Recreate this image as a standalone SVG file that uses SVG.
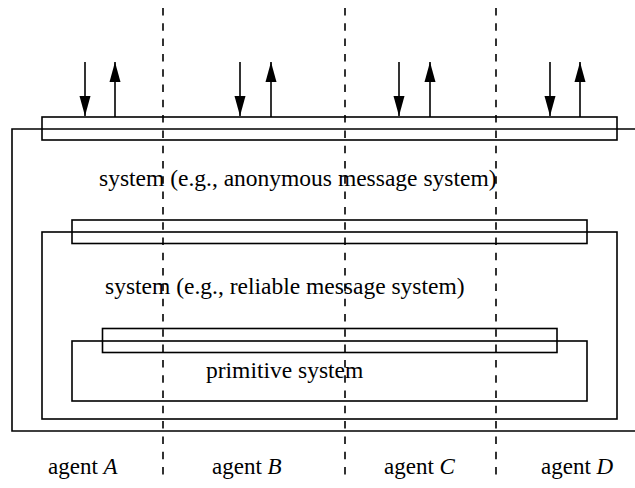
<svg xmlns="http://www.w3.org/2000/svg" width="635" height="488" viewBox="0 0 635 488">
<style>
.box{fill:none;stroke:#000;stroke-width:1.6}
.sep{stroke:#000;stroke-width:1.6;stroke-dasharray:7.5 7.8}
.arr{stroke:#000;stroke-width:1.6;fill:none}
.lbl{font-family:"Liberation Serif","Times New Roman",serif;font-size:23.5px;fill:#000}
.ag{font-family:"Liberation Serif","Times New Roman",serif;font-size:23px;fill:#000}
</style>
<defs>
<marker id="ah" markerUnits="userSpaceOnUse" markerWidth="22" markerHeight="12" refX="20" refY="6" orient="auto">
<path d="M0,0.5 L20,6 L0,11.5 Z" fill="#000"/>
</marker>
</defs>
<rect width="635" height="488" fill="#fff"/>
<g id="separators">
<line class="sep" x1="163" y1="8" x2="163" y2="482"/>
<line class="sep" x1="345" y1="8" x2="345" y2="482"/>
<line class="sep" x1="496" y1="8" x2="496" y2="482"/>
</g>
<g id="outer-system">
<path class="box" d="M635,129 H12 V431 H635"/>
<rect class="box" x="42" y="117" width="575" height="23"/>
<text class="lbl" x="99" y="186">system (e.g., anonymous message system)</text>
</g>
<g id="reliable-system">
<rect class="box" x="42" y="232" width="575" height="187"/>
<rect class="box" x="72" y="220" width="515" height="23.5"/>
<text class="lbl" x="105" y="294">system (e.g., reliable message system)</text>
</g>
<g id="primitive-system">
<rect class="box" x="72" y="341" width="515" height="60"/>
<rect class="box" x="102.5" y="328.5" width="454.5" height="24"/>
<text class="lbl" x="206" y="378">primitive system</text>
</g>
<g id="agents">
<text class="ag" x="48" y="474">agent <tspan font-style="italic">A</tspan></text>
<text class="ag" x="212" y="474">agent <tspan font-style="italic">B</tspan></text>
<text class="ag" x="384" y="474">agent <tspan font-style="italic">C</tspan></text>
<text class="ag" x="541" y="474">agent <tspan font-style="italic">D</tspan></text>
</g>
<g id="connectors">
<line class="arr" x1="85" y1="62" x2="85" y2="116" marker-end="url(#ah)"/>
<line class="arr" x1="115" y1="117" x2="115" y2="62" marker-end="url(#ah)"/>
<line class="arr" x1="240" y1="62" x2="240" y2="116" marker-end="url(#ah)"/>
<line class="arr" x1="271" y1="117" x2="271" y2="62" marker-end="url(#ah)"/>
<line class="arr" x1="399" y1="62" x2="399" y2="116" marker-end="url(#ah)"/>
<line class="arr" x1="430" y1="117" x2="430" y2="62" marker-end="url(#ah)"/>
<line class="arr" x1="550" y1="62" x2="550" y2="116" marker-end="url(#ah)"/>
<line class="arr" x1="580" y1="117" x2="580" y2="62" marker-end="url(#ah)"/>
</g>
</svg>
